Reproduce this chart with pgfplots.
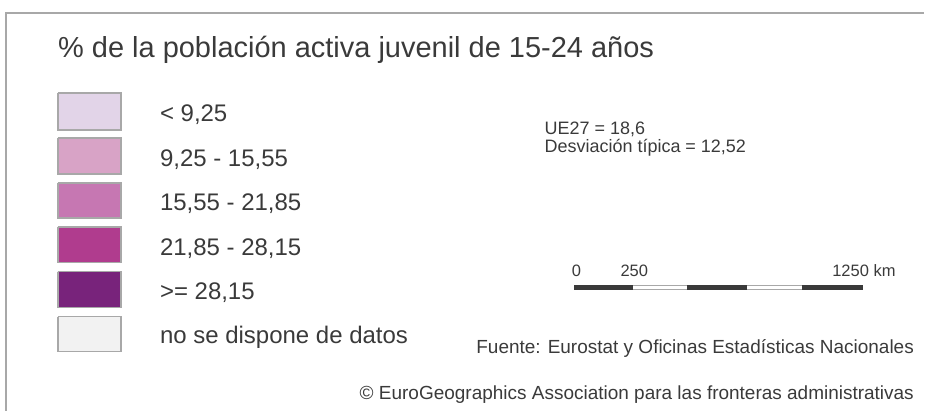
\documentclass[border=0pt]{standalone}
\usepackage{pgfplots}
\pgfplotsset{compat=1.18}
\usepackage{fontspec}
\setmainfont{Liberation Sans}
\definecolor{txt}{HTML}{3A3A3A}
\definecolor{cA}{HTML}{E2D4E8}
\definecolor{cB}{HTML}{D8A3C6}
\definecolor{cC}{HTML}{C677B2}
\definecolor{cD}{HTML}{B03C8E}
\definecolor{cE}{HTML}{78237B}
\definecolor{cF}{HTML}{F2F2F2}
\definecolor{frame}{HTML}{A8A8A8}
\begin{document}
\begin{tikzpicture}
\begin{axis}[
  width=925pt, height=411pt, scale only axis,
  xmin=0, xmax=925, ymin=0, ymax=411, y dir=reverse,
  hide axis, clip=false,
]
\path (axis cs:0,0) rectangle (axis cs:925,411);
% frame
\draw[frame, line width=2pt] (axis cs:6,411) -- (axis cs:6,13) -- (axis cs:925,13);
% title
\node[anchor=base west, text=txt, inner sep=0pt, font=\fontsize{29}{33}\selectfont] at (axis cs:58,58) {\% de la población activa juvenil de 15-24 años};
% swatches
\addplot[fill=cA, draw=frame, line width=1.5pt] coordinates {(58,93) (121,93) (121,130) (58,130) (58,93)};
\addplot[fill=cB, draw=frame, line width=1.5pt] coordinates {(58,138) (121,138) (121,174) (58,174) (58,138)};
\addplot[fill=cC, draw=frame, line width=1.5pt] coordinates {(58,183) (121,183) (121,218) (58,218) (58,183)};
\addplot[fill=cD, draw=frame, line width=1.5pt] coordinates {(58,227) (121,227) (121,263) (58,263) (58,227)};
\addplot[fill=cE, draw=frame, line width=1.5pt] coordinates {(58,272) (121,272) (121,308) (58,308) (58,272)};
\addplot[fill=cF, draw=frame, line width=1.5pt] coordinates {(58,317) (121,317) (121,352) (58,352) (58,317)};
% labels
\begin{scope}[every node/.style={anchor=base west, text=txt, inner sep=0pt, font=\fontsize{24}{28}\selectfont}]
\node at (axis cs:160,122) {< 9,25};
\node at (axis cs:160,166.5) {9,25 - 15,55};
\node at (axis cs:160,211) {15,55 - 21,85};
\node at (axis cs:160,255.5) {21,85 - 28,15};
\node at (axis cs:160,300) {>= 28,15};
\node at (axis cs:160,344) {no se dispone de datos};
\end{scope}
% stats
\begin{scope}[every node/.style={anchor=base west, text=txt, inner sep=0pt, font=\fontsize{18}{21}\selectfont}]
\node at (axis cs:545,135) {UE27 = 18,6};
\node at (axis cs:545,153) {Desviación típica = 12,52};
\end{scope}
% scale bar
\addplot[fill=white, draw=frame, line width=1pt] coordinates {(575,286) (863,286) (863,290) (575,290) (575,286)};
\addplot[fill=txt, draw=txt, line width=0.5pt] coordinates {(575,286) (633,286) (633,290) (575,290) (575,286)};
\addplot[fill=txt, draw=txt, line width=0.5pt] coordinates {(688,286) (747,286) (747,290) (688,290) (688,286)};
\addplot[fill=txt, draw=txt, line width=0.5pt] coordinates {(803,286) (863,286) (863,290) (803,290) (803,286)};
\begin{scope}[every node/.style={anchor=base, text=txt, inner sep=0pt, font=\fontsize{16.5}{20}\selectfont}]
\node at (axis cs:577,276.5) {0};
\node at (axis cs:635,276.5) {250};
\node[anchor=base west] at (axis cs:833,276.5) {1250 km};
\end{scope}
% sources
\begin{scope}[every node/.style={anchor=base east, text=txt, inner sep=0pt, font=\fontsize{19}{22}\selectfont}]
\node at (axis cs:915,354) {Fuente: Eurostat y Oficinas Estadísticas Nacionales};
\node at (axis cs:915,400) {© EuroGeographics Association para las fronteras administrativas};
\end{scope}
\end{axis}
\end{tikzpicture}
\end{document}
